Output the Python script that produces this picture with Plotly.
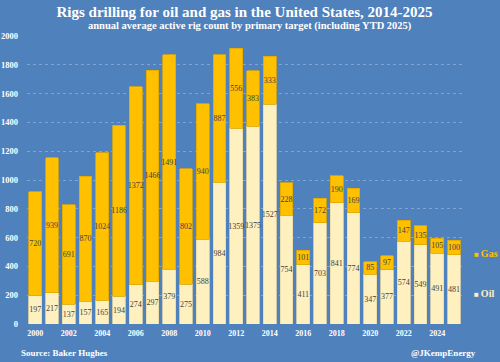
import plotly.graph_objects as go

years = list(range(2000, 2026))
oil = [197, 217, 137, 157, 165, 194, 274, 297, 379, 275, 588, 984, 1359, 1375, 1527,
       754, 411, 703, 841, 774, 347, 377, 574, 549, 491, 481]
gas = [720, 939, 691, 870, 1024, 1186, 1372, 1466, 1491, 802, 940, 887, 556, 383, 333,
       228, 101, 172, 190, 169, 85, 97, 147, 135, 105, 100]
y_ticks = list(range(0, 2001, 200))
x_ticks = list(range(2000, 2025, 2))

BG = "#4F81BD"
GAS_C = "#FFC000"
OIL_C = "#FFF0C0"
SERIF = "Liberation Serif"

W, H = 500, 362
ML, MR, MT, MB = 27, 38, 36, 38
PW, PH = W - ML - MR, H - MT - MB


def px(x):
    return (x - ML) / PW


def py(y):
    return (H - MB - y) / PH


fig = go.Figure()
fig.add_trace(go.Bar(
    x=years, y=oil, name="Oil", showlegend=False,
    marker=dict(color=OIL_C, line=dict(color="#E8D9A8", width=0.8)),
    text=oil, texttemplate="%{text}", textposition="inside",
    insidetextanchor="middle", textangle=0,
    textfont=dict(family=SERIF, size=8, color="#404040"),
))
fig.add_trace(go.Bar(
    x=years, y=gas, name="Gas", showlegend=False,
    marker=dict(color=GAS_C, line=dict(color="#E0A800", width=0.8)),
    text=gas, texttemplate="%{text}", textposition="inside",
    insidetextanchor="middle", textangle=0,
    textfont=dict(family=SERIF, size=8, color="#404040"),
))


def legend_item(label, color, y):
    return dict(text="<span style='font-size:8px'>■</span>\u2009<b>%s</b>" % label,
                x=px(472), y=py(y), xref="paper", yref="paper",
                xanchor="left", yanchor="middle", showarrow=False,
                font=dict(family=SERIF, size=10, color=color))


fig.update_layout(
    width=W, height=H,
    barmode="stack", bargap=0.24,
    paper_bgcolor=BG, plot_bgcolor=BG,
    margin=dict(l=ML, r=MR, t=MT, b=MB, autoexpand=False),
    uniformtext=dict(minsize=8, mode="show"),
    font=dict(family=SERIF, color="white"),
    showlegend=False,
    title=dict(
        text="<b>Rigs drilling for oil and gas in the United States, 2014-2025</b>",
        x=0.5, xref="paper", xanchor="center", y=1 - 12 / H, yanchor="middle",
        font=dict(family=SERIF, size=15, color="white"),
    ),
    annotations=[
        dict(text="<b>annual average active rig count by primary target (including YTD 2025)</b>",
             x=px(250), y=py(26), xref="paper", yref="paper", xanchor="center",
             yanchor="middle", showarrow=False,
             font=dict(family=SERIF, size=10.5, color="white")),
        dict(text="<b>Source: Baker Hughes</b>", x=px(19), y=py(353),
             xref="paper", yref="paper", xanchor="left", yanchor="middle",
             showarrow=False, font=dict(family=SERIF, size=9, color="white")),
        dict(text="<b>@JKempEnergy</b>", x=px(478), y=py(353),
             xref="paper", yref="paper", xanchor="right", yanchor="middle",
             showarrow=False, font=dict(family=SERIF, size=9, color="white")),
        legend_item("Gas", GAS_C, 253),
        legend_item("Oil", OIL_C, 293),
    ],
)

fig.update_xaxes(
    range=[1999.504, 2025.48], tickvals=x_ticks, ticktext=["<b>%d</b>" % t for t in x_ticks],
    showgrid=False, zeroline=False, showline=False, ticks="", ticklabelstandoff=3,
    automargin=False,
    tickfont=dict(family=SERIF, size=8, color="white"),
)
fig.update_yaxes(
    range=[0, 2000], tickvals=y_ticks, ticktext=["<b>%d</b>" % t for t in y_ticks],
    showgrid=True, gridcolor="rgba(255,255,255,0.28)", griddash="dot", gridwidth=1,
    zeroline=False, showline=False, ticks="", ticklabelstandoff=8,
    automargin=False,
    tickfont=dict(family=SERIF, size=8.5, color="white"),
)

fig.write_html("out.html", config={"displayModeBar": False},
               post_script="document.body.style.margin='0';document.body.style.background='%s';" % BG)
